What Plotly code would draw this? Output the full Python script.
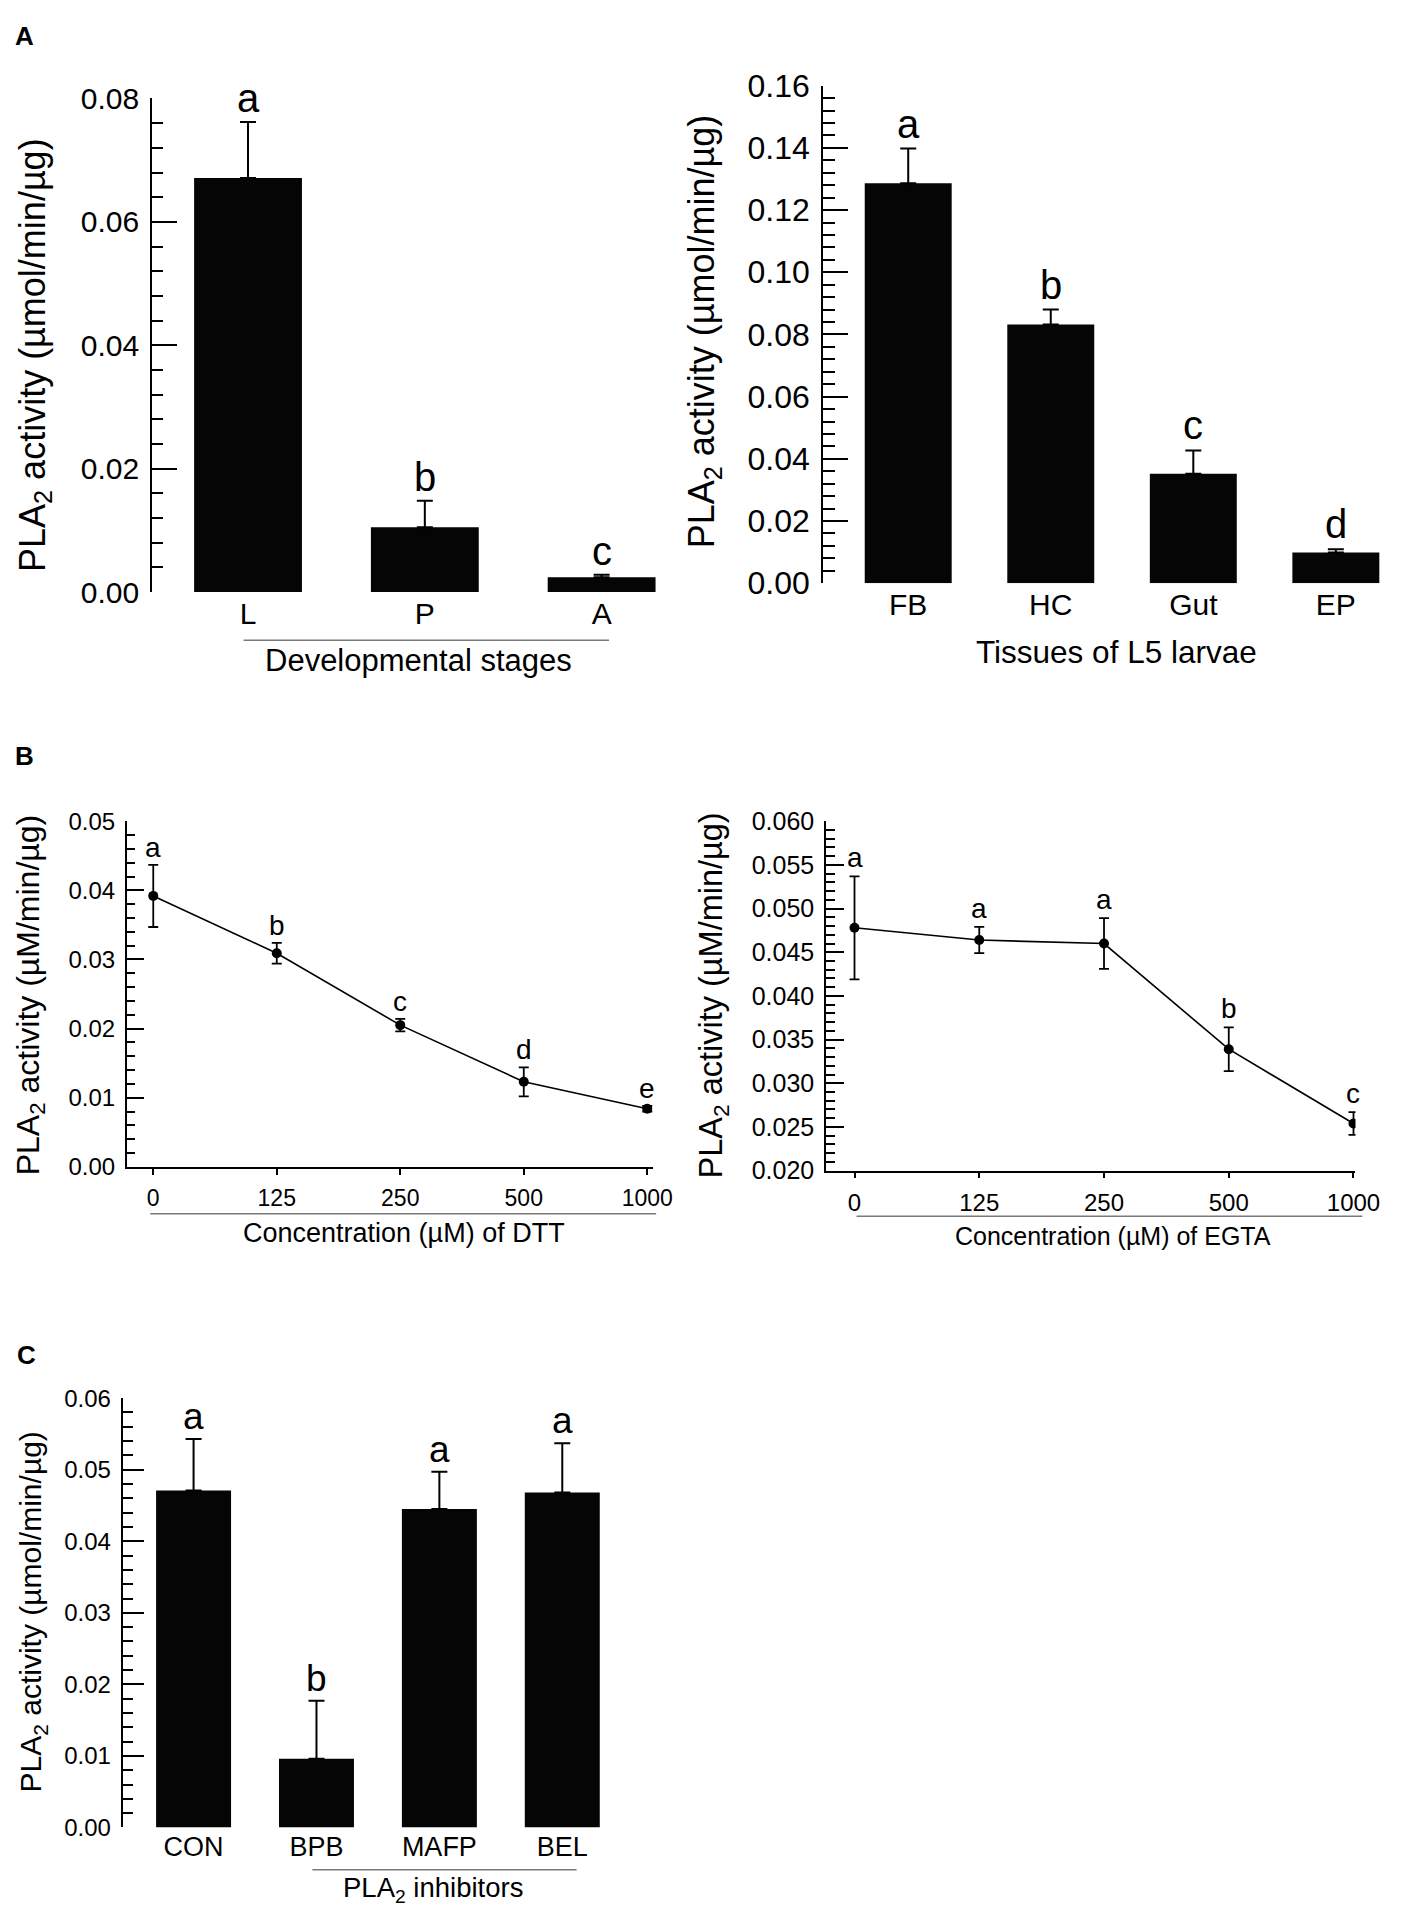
import plotly.graph_objects as go

W, H = 1408, 1923
FONT = "Liberation Sans, Arial, sans-serif"
BLACK = "#000000"

# ---------------- data ----------------
stages = ["L", "P", "A"]
stage_mean = [0.0671, 0.0105, 0.0024]
stage_se = [0.0091, 0.0043, 0.0004]
stage_letters = ["a", "b", "c"]

tissues = ["FB", "HC", "Gut", "EP"]
tissue_mean = [0.1286, 0.0832, 0.0352, 0.0099]
tissue_se = [0.0112, 0.0048, 0.0075, 0.0010]
tissue_letters = ["a", "b", "c", "d"]

conc = ["0", "125", "250", "500", "1000"]
dtt_mean = [0.0392, 0.0309, 0.0205, 0.0123, 0.0084]
dtt_se = [0.0045, 0.0015, 0.0009, 0.0021, 0.0004]
dtt_letters = ["a", "b", "c", "d", "e"]

egta_mean = [0.0478, 0.0464, 0.0460, 0.0339, 0.0254]
egta_se = [0.0059, 0.0015, 0.0029, 0.0025, 0.0013]
egta_letters = ["a", "a", "a", "b", "c"]

inhibitors = ["CON", "BPB", "MAFP", "BEL"]
inhib_mean = [0.0471, 0.0096, 0.0445, 0.0468]
inhib_se = [0.0072, 0.0081, 0.0052, 0.0069]
inhib_letters = ["a", "b", "a", "a"]

# ---------------- helpers ----------------
def px_x(x):
    return x / W

def px_y(y):
    return 1 - y / H

fig = go.Figure()
annotations = []
shapes = []

def add_panel(idx, kind, cats, mean, se, letters, xpx, ypx, yrange, dtick, minor,
              xrange, ytick_font, xtick_font, ticklen, minorlen, axw, letter_font,
              letter_shift, xstandoff, xaxis_line=False, ytickformat=".2f"):
    xa = "x" if idx == 1 else f"x{idx}"
    ya = "y" if idx == 1 else f"y{idx}"
    if kind == "bar":
        fig.add_trace(go.Bar(
            x=cats, y=mean, xaxis=xa, yaxis=ya, width=0.61,
            marker=dict(color="#050505", line=dict(width=0)),
            error_y=dict(type="data", symmetric=False, array=se,
                         arrayminus=[0] * len(se), color=BLACK,
                         thickness=2, width=8),
            showlegend=False, hoverinfo="x+y"))
    else:
        fig.add_trace(go.Scatter(
            x=cats, y=mean, xaxis=xa, yaxis=ya, mode="lines+markers",
            line=dict(color=BLACK, width=1.6),
            marker=dict(color=BLACK, size=10),
            error_y=dict(type="data", array=se, color=BLACK,
                         thickness=1.8, width=5),
            showlegend=False))
    tops = [m + s for m, s in zip(mean, se)]
    # significance letters, placed at the category index above each error bar
    for i, (t, l) in enumerate(zip(tops, letters)):
        annotations.append(dict(
            x=i, y=t, xref=xa, yref=ya, text=l, showarrow=False,
            xanchor="center", yanchor="bottom", yshift=letter_shift,
            font=dict(family=FONT, size=letter_font, color=BLACK)))
    xkey = "xaxis" if idx == 1 else f"xaxis{idx}"
    ykey = "yaxis" if idx == 1 else f"yaxis{idx}"
    xaxis = dict(
        domain=[px_x(xpx[0]), px_x(xpx[1])], anchor=ya, type="category",
        categoryorder="array", categoryarray=cats,
        range=xrange, showgrid=False, zeroline=False,
        tickfont=dict(family=FONT, size=xtick_font, color=BLACK),
        ticklabelstandoff=xstandoff, fixedrange=True)
    if xaxis_line:
        xaxis.update(showline=True, linecolor=BLACK, linewidth=1.6,
                     ticks="outside", ticklen=6, tickwidth=1.6,
                     tickcolor=BLACK)
    else:
        xaxis.update(showline=False, ticks="", ticklen=0)
    yaxis = dict(
        domain=[px_y(ypx[1]), px_y(ypx[0])], anchor=xa, range=yrange,
        dtick=dtick, tick0=yrange[0], tickformat=ytickformat,
        showgrid=False, zeroline=False, showline=True, linecolor=BLACK,
        linewidth=axw, ticks="inside", ticklen=ticklen, tickwidth=axw,
        tickcolor=BLACK,
        minor=dict(ticks="inside", ticklen=minorlen, dtick=minor,
                   tick0=yrange[0], tickcolor=BLACK, tickwidth=axw,
                   showgrid=False),
        tickfont=dict(family=FONT, size=ytick_font, color=BLACK),
        ticklabelstandoff=5, fixedrange=True)
    fig.update_layout({xkey: xaxis, ykey: yaxis})


# Panel A left: developmental stages
add_panel(1, "bar", stages, stage_mean, stage_se, stage_letters,
          (155, 680), (82, 585), [0, 0.08], 0.02, 0.004,
          [-0.5417, 2.375], 30, 30, 25, 11, 2, 40, 0, 1)
# Panel A right: tissues of L5 larvae
add_panel(2, "bar", tissues, tissue_mean, tissue_se, tissue_letters,
          (838, 1406), (69, 576), [0, 0.16], 0.02, 0.004,
          [-0.597, 3.317], 32, 30, 25, 12, 2, 40, 1, 1)
# Panel B left: DTT
add_panel(3, "line", conc, dtt_mean, dtt_se, dtt_letters,
          (129, 665), (818.6, 1170.7), [0, 0.05], 0.01, 0.002,
          [-0.215, 4.048], 24, 23, 17, 8, 1.6, 28, 0, 4,
          xaxis_line=True)
# Panel B right: EGTA
add_panel(4, "line", conc, egta_mean, egta_se, egta_letters,
          (841, 1380), (818.6, 1174.6), [0.02, 0.06], 0.005, 0.001,
          [-0.228, 4.016], 25, 24, 18, 9, 1.6, 28, 1, 4,
          xaxis_line=True, ytickformat=".3f")
# Panel C: PLA2 inhibitors
add_panel(5, "bar", inhibitors, inhib_mean, inhib_se, inhib_letters,
          (125, 620), (1406.5, 1844), [0, 0.06], 0.01, 0.002,
          [-0.576, 3.38], 24, 27, 21, 10, 2, 37, 0, 1)

# ---------------- titles (text) ----------------
def text_at(x, y, txt, size, angle=0):
    annotations.append(dict(
        x=px_x(x), y=px_y(y), xref="paper", yref="paper", text=txt,
        showarrow=False, xanchor="center", yanchor="middle",
        textangle=angle,
        font=dict(family=FONT, size=size, color=BLACK)))

# panel letters
text_at(25, 18, "<b>A</b>", 26)
text_at(25, 752, "<b>B</b>", 26)
text_at(27, 1362, "<b>C</b>", 26)

# y-axis titles
text_at(35, 343, "PLA<sub>2</sub> activity (µmol/min/µg)", 36, -90)
text_at(717, 319, "PLA<sub>2</sub> activity (µmol/min/µg)", 36, -90)
text_at(30.5, 995, "PLA<sub>2</sub> activity (µM/min/µg)", 32, -90)
text_at(726, 996, "PLA<sub>2</sub> activity (µM/min/µg)", 32.5, -90)
text_at(33.5, 1624, "PLA<sub>2</sub> activity (µmol/min/µg)", 30, -90)

# x-axis titles
text_at(426, 655, "Developmental stages", 31)
text_at(1137, 646, "Tissues of L5 larvae", 31.5)
text_at(411, 1238, "Concentration (µM) of DTT", 27)
text_at(1133, 1241, "Concentration (µM) of EGTA", 25)
text_at(441, 1907, "PLA<sub>2</sub> inhibitors", 27.5)

# separator lines under category labels
def hline(x0, x1, y, color="#7a7a7a", w=1.5):
    shapes.append(dict(type="line", xref="paper", yref="paper",
                       x0=px_x(x0), x1=px_x(x1), y0=px_y(y), y1=px_y(y),
                       line=dict(color=color, width=w)))

hline(248, 620, 634)
hline(153, 668, 1218.6)
hline(872, 1387, 1221)
hline(318, 587, 1887)

fig.update_layout(
    width=W, height=H, margin=dict(l=0, r=0, t=0, b=0),
    paper_bgcolor="white", plot_bgcolor="white",
    annotations=annotations, shapes=shapes, showlegend=False,
    font=dict(family=FONT, color=BLACK))

post = (
    "document.documentElement.style.margin='0';"
    "document.body.style.margin='0';"
    "var gd=document.getElementById('{plot_id}');"
    "gd.style.position='absolute';gd.style.left='0px';gd.style.top='0px';"
)

fig.write_html("out.html", config={"displayModeBar": False}, post_script=post)
